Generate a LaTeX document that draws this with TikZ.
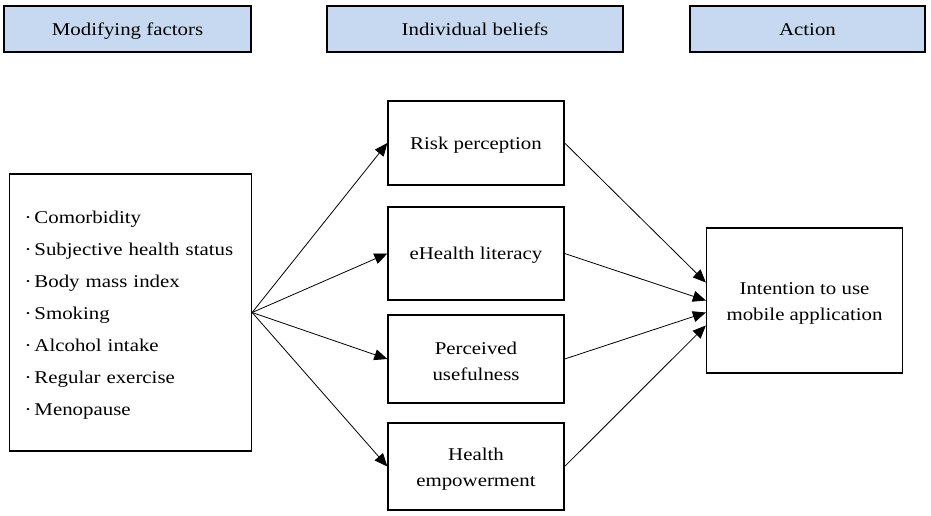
\documentclass[tikz,border=0pt]{standalone}
\usepackage{fontspec}
\setmainfont{Liberation Serif}[FakeStretch=1.16]
\usetikzlibrary{arrows.meta,calc}
\definecolor{hdrblue}{HTML}{C6D9F1}
\newcommand{\topstrut}{\rule{0pt}{17pt}}
\begin{document}
\begin{tikzpicture}[x=1pt,y=-1pt,
  every node/.style={font=\fontsize{18}{26}\selectfont},
  oneline/.style={text height=16.5pt,text depth=4pt},
  hdr/.style={draw=black,line width=1.3pt,fill=hdrblue,inner sep=0pt,minimum height=46pt,oneline},
  box/.style={draw=black,line width=1.3pt,inner sep=0pt,align=center},
  midbox/.style={box,minimum width=176pt},
  conn/.style={line width=0.8pt,-{Triangle[length=13pt,width=11pt]}}
]
\useasboundingbox (0,0) rectangle (931,516);
\node[hdr,minimum width=247pt] (h1) at (127.5,29) {Modifying factors};
\node[hdr,minimum width=296pt] (h2) at (475,29) {Individual beliefs};
\node[hdr,minimum width=235pt] (h3) at (807.5,29) {Action};

\node[box,minimum width=242pt,minimum height=277pt,align=left,text width=212pt,font=\fontsize{18}{32}\selectfont] (L) at (130.5,312.5)
 {\topstrut·\,Comorbidity\\ ·\,Subjective health status\\ ·\,Body mass index\\ ·\,Smoking\\ ·\,Alcohol intake\\ ·\,Regular exercise\\ ·\,Menopause};

\node[midbox,oneline,minimum height=84pt] (m1) at (476,143) {Risk perception};
\node[midbox,oneline,minimum height=93pt] (m2) at (476,253.5) {eHealth literacy};
\node[midbox,minimum height=88pt] (m3) at (476,359) {\topstrut Perceived\\usefulness};
\node[midbox,minimum height=87pt] (m4) at (476,466.5) {\topstrut Health\\empowerment};

\node[box,minimum width=196pt,minimum height=145pt] (R) at (804.5,300.5) {\topstrut Intention to use\\mobile application};

\coordinate (t1) at ($(R.west)+(0,18pt)$);
\coordinate (t2) at ($(R.west)+(0,0pt)$);
\coordinate (t3) at ($(R.west)+(0,-12pt)$);
\coordinate (t4) at ($(R.west)+(0,-25pt)$);

\foreach \m in {m1,m2,m3,m4} \draw[conn] (L.east) -- (\m.west);
\draw[conn] (m1.east) -- (t1);
\draw[conn] (m2.east) -- (t2);
\draw[conn] (m3.east) -- (t3);
\draw[conn] (m4.east) -- (t4);
\end{tikzpicture}
\end{document}
